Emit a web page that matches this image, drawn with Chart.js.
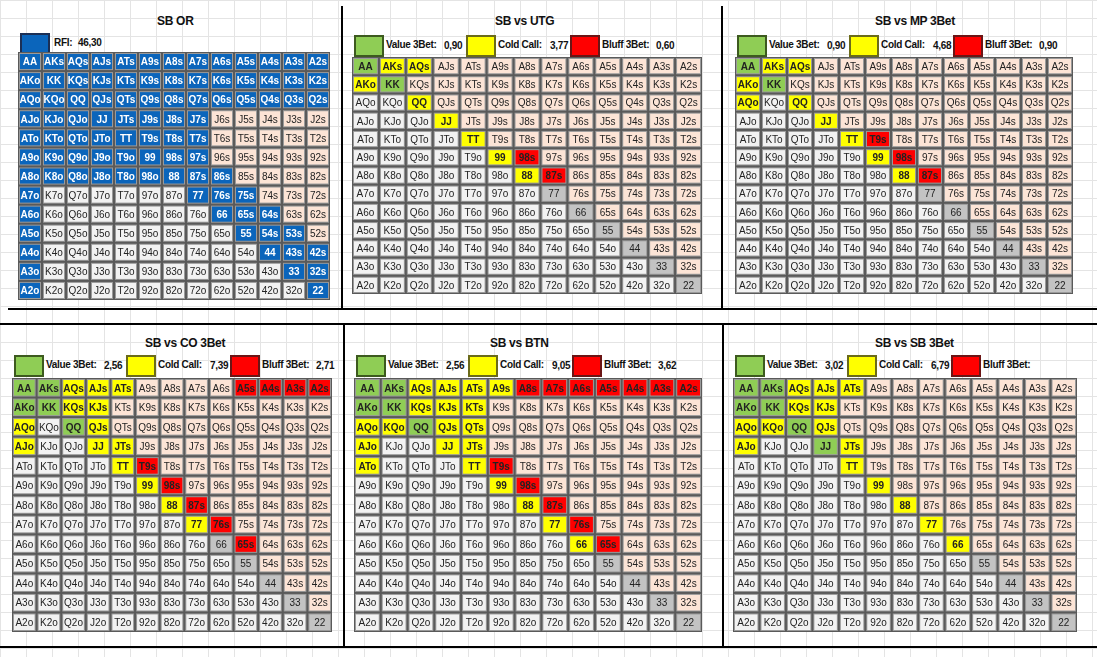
<!DOCTYPE html>
<html>
<head>
<meta charset="utf-8">
<script src="https://cdn.jsdelivr.net/npm/chart.js@4"></script>
<style>
body{margin:0;width:1097px;height:657px;position:relative;overflow:hidden;background:#fff;
 font-family:'Liberation Sans Narrow','Liberation Sans',sans-serif;}
.bg{position:absolute;left:0;top:0;width:1097px;height:657px;
 background-image:linear-gradient(#e4e4e4 1px,transparent 1px),linear-gradient(90deg,#e4e4e4 1px,transparent 1px);
 background-size:26px 18px;}
.t{position:absolute;font-weight:bold;font-size:12px;color:#111;white-space:nowrap;letter-spacing:-0.3px}
.box{position:absolute;width:26px;height:18px;border:2px solid #3c3c3c}
.ln{position:absolute;background:#000}
canvas{position:absolute}
</style>
</head>
<body>
<div class="bg"></div>
<div id="root"></div>
<script>
var ranks = ['A','K','Q','J','T','9','8','7','6','5','4','3','2'];

// SB OR (blue)
var orTitle = 'SB OR';
var orRfi = '46,30';
var orBlue = ['AA','KK','QQ','JJ','TT','99','88','77','66','55','44','33','22',
 'AKs','AQs','AJs','ATs','A9s','A8s','A7s','A6s','A5s','A4s','A3s','A2s',
 'KQs','KJs','KTs','K9s','K8s','K7s','K6s','K5s','K4s','K3s','K2s',
 'QJs','QTs','Q9s','Q8s','Q7s','Q6s','Q5s','Q4s','Q3s','Q2s',
 'JTs','J9s','J8s','J7s','T9s','T8s','T7s','98s','97s','87s','86s','76s','75s',
 '65s','64s','54s','53s','43s','42s','32s',
 'AKo','AQo','AJo','ATo','A9o','A8o','A7o','A6o','A5o','A4o','A3o','A2o',
 'KQo','KJo','KTo','K9o','K8o','QJo','QTo','Q9o','Q8o','JTo','J9o','J8o','T9o','T8o','98o'];

var titles = ['SB vs UTG','SB vs MP 3Bet','SB vs CO 3Bet','SB vs BTN','SB vs SB 3Bet'];
var valueNums = ['0,90','0,90','2,56','2,56','3,02'];
var callNums = ['3,77','4,68','7,39','9,05','6,79'];
var bluffNums = ['0,60','0,90','2,71','3,62',''];

var valueHands = [
 ['AA','KK'],
 ['AA','KK'],
 ['AA','AKs','AKo','KK','QQ'],
 ['AA','AKs','AKo','KK','QQ'],
 ['AA','AKs','AKo','KK','QQ','JJ']
];
var callHands = [
 ['AKs','AQs','AKo','QQ','JJ','TT','99','88'],
 ['AKs','AQs','AKo','AQo','QQ','JJ','TT','99','88'],
 ['AQs','AJs','ATs','KQs','KJs','AQo','QJs','AJo','JJ','JTs','TT','99','88','77'],
 ['AQs','AJs','ATs','A9s','KQs','KJs','KTs','AQo','KQo','QJs','QTs','AJo','JJ','JTs','ATo','TT','99','88','77','66'],
 ['AQs','AJs','ATs','KQs','KJs','AQo','KQo','QJs','AJo','JTs','TT','99','88','77','66']
];
var bluffHands = [
 ['98s','87s'],
 ['T9s','98s','87s'],
 ['A5s','A4s','A3s','A2s','T9s','98s','87s','76s','65s'],
 ['A8s','A7s','A6s','A5s','A4s','A3s','A2s','T9s','98s','87s','76s','65s'],
 []
];

// layout: grid rectangles and header positions
var grids = [
 {x:18,y:52,w:312,h:248,cx:175,ty:14,ly:33},
 {x:352,y:57,w:350,h:237,cx:525,ty:14,ly:35},
 {x:735,y:57,w:338,h:237,cx:905,ty:14,ly:35},
 {x:12,y:378,w:320,h:254,cx:175,ty:336,ly:355},
 {x:354,y:378,w:348,h:254,cx:520,ty:336,ly:355},
 {x:733,y:378,w:344,h:254,cx:905,ty:336,ly:355}
];

var COL = {blue:'#0b65bb',green:'#8fcd55',yellow:'#ffff00',red:'#ff0000',suit:'#fce4d6',off:'#f2f2f2',pair:'#c3c3c3'};
var root = document.getElementById('root');
var colorFns = {};

function add(html){ root.insertAdjacentHTML('beforeend', html); }

function handAt(r, c){
    if (r === c) return ranks[r] + ranks[c];
    if (c > r) return ranks[r] + ranks[c] + 's';
    return ranks[c] + ranks[r] + 'o';
}

function cellPoints(){
    var pts = [];
    for (var r = 0; r < 13; r++) {
        for (var c = 0; c < 13; c++) {
            pts.push({x: c + 0.5, y: r + 0.5, hand: handAt(r, c), r: r, c: c});
        }
    }
    return pts;
}

var cellPlugin = {
    id: 'cells',
    afterDatasetsDraw: function(chart){
        var ctx = chart.ctx, xs = chart.scales.x, ys = chart.scales.y;
        var colorOf = colorFns[chart.canvas.id];
        var pts = chart.data.datasets[0].data;
        ctx.save();
        ctx.fillStyle = '#5a5a5a';
        ctx.fillRect(xs.getPixelForValue(0), ys.getPixelForValue(0),
            xs.getPixelForValue(13) - xs.getPixelForValue(0), ys.getPixelForValue(13) - ys.getPixelForValue(0));
        pts.forEach(function(p){
            var x0 = xs.getPixelForValue(p.c), x1 = xs.getPixelForValue(p.c + 1);
            var y0 = ys.getPixelForValue(p.r), y1 = ys.getPixelForValue(p.r + 1);
            var fill = colorOf(p);
            ctx.fillStyle = '#9a9a9a';
            ctx.fillRect(x0 + 1, y0 + 1, x1 - x0 - 2, y1 - y0 - 2);
            ctx.fillStyle = fill;
            ctx.fillRect(x0 + 2, y0 + 2, x1 - x0 - 4, y1 - y0 - 4);
            var strong = fill !== COL.suit && fill !== COL.off && fill !== COL.pair;
            ctx.fillStyle = fill === COL.blue ? '#ffffff' : '#222';
            ctx.font = (strong ? 'bold ' : '') + '10px "Liberation Sans Narrow", "Liberation Sans", sans-serif';
            ctx.textAlign = 'center';
            ctx.textBaseline = 'middle';
            ctx.fillText(p.hand, (x0 + x1) / 2, (y0 + y1) / 2 + 1);
        });
        ctx.restore();
    }
};

function makeGrid(id, g, colorOf){
    var cv = document.createElement('canvas');
    cv.id = id;
    cv.width = g.w; cv.height = g.h;
    cv.style.left = g.x + 'px'; cv.style.top = g.y + 'px';
    root.appendChild(cv);
    colorFns[id] = colorOf;
    new Chart(cv, {
        type: 'scatter',
        data: {datasets: [{data: cellPoints(), pointRadius: 0}]},
        options: {
            responsive: false, animation: false,
            layout: {padding: 0},
            plugins: {legend: {display: false}, tooltip: {enabled: false}},
            scales: {
                x: {type: 'linear', min: 0, max: 13, display: false},
                y: {type: 'linear', min: 0, max: 13, reverse: true, display: false}
            }
        },
        plugins: [cellPlugin]
    });
}

function baseColor(p){
    if (p.r === p.c) return COL.pair;
    return p.c > p.r ? COL.suit : COL.off;
}

// panel 1
var g = grids[0];
add('<div class="t" style="left:' + (g.cx - 18) + 'px;top:' + g.ty + 'px">' + orTitle + '</div>');
add('<div class="box" style="left:20px;top:' + g.ly + 'px;background:' + COL.blue + ';border-color:#1b2f55"></div>');
add('<div class="t" style="left:54px;top:' + (g.ly + 4) + 'px;font-size:10px">RFI:</div>');
add('<div class="t" style="left:78px;top:' + (g.ly + 4) + 'px;font-size:10px">' + orRfi + '</div>');
makeGrid('g0', g, function(p){
    if (orBlue.indexOf(p.hand) >= 0) return COL.blue;
    return p.c > p.r ? COL.suit : COL.off;
});

// panels 2-6
for (var i = 0; i < 5; i++) {
    (function(i){
        var g = grids[i + 1];
        var lx = g.x + 2;
        add('<div class="t" style="left:' + (g.cx - 30) + 'px;top:' + g.ty + 'px">' + titles[i] + '</div>');
        add('<div class="box" style="left:' + lx + 'px;top:' + g.ly + 'px;background:' + COL.green + ';border-color:#3d5a1f"></div>');
        add('<div class="t" style="left:' + (lx + 32) + 'px;top:' + (g.ly + 4) + 'px;font-size:10px">Value 3Bet:</div>');
        add('<div class="t" style="left:' + (lx + 90) + 'px;top:' + (g.ly + 5) + 'px;font-size:10px">' + valueNums[i] + '</div>');
        add('<div class="box" style="left:' + (lx + 112) + 'px;top:' + g.ly + 'px;background:' + COL.yellow + ';border-color:#6b6b1a"></div>');
        add('<div class="t" style="left:' + (lx + 144) + 'px;top:' + (g.ly + 4) + 'px;font-size:10px">Cold Call:</div>');
        add('<div class="t" style="left:' + (lx + 196) + 'px;top:' + (g.ly + 5) + 'px;font-size:10px">' + callNums[i] + '</div>');
        add('<div class="box" style="left:' + (lx + 216) + 'px;top:' + g.ly + 'px;background:' + COL.red + ';border-color:#6b1515"></div>');
        add('<div class="t" style="left:' + (lx + 248) + 'px;top:' + (g.ly + 4) + 'px;font-size:10px">Bluff 3Bet:</div>');
        add('<div class="t" style="left:' + (lx + 302) + 'px;top:' + (g.ly + 5) + 'px;font-size:10px">' + bluffNums[i] + '</div>');
        makeGrid('g' + (i + 1), g, function(p){
            if (valueHands[i].indexOf(p.hand) >= 0) return COL.green;
            if (callHands[i].indexOf(p.hand) >= 0) return COL.yellow;
            if (bluffHands[i].indexOf(p.hand) >= 0) return COL.red;
            return baseColor(p);
        });
    })(i);
}

// panel frames
add('<div class="ln" style="left:341px;top:6px;width:2px;height:304px"></div>');
add('<div class="ln" style="left:721px;top:6px;width:2px;height:304px"></div>');
add('<div class="ln" style="left:8px;top:308px;width:1090px;height:2px"></div>');
add('<div class="ln" style="left:0px;top:323px;width:1097px;height:2px"></div>');
add('<div class="ln" style="left:343px;top:323px;width:2px;height:325px"></div>');
add('<div class="ln" style="left:722px;top:323px;width:2px;height:325px"></div>');
add('<div class="ln" style="left:0px;top:646px;width:1097px;height:2px"></div>');
</script>
</body>
</html>
